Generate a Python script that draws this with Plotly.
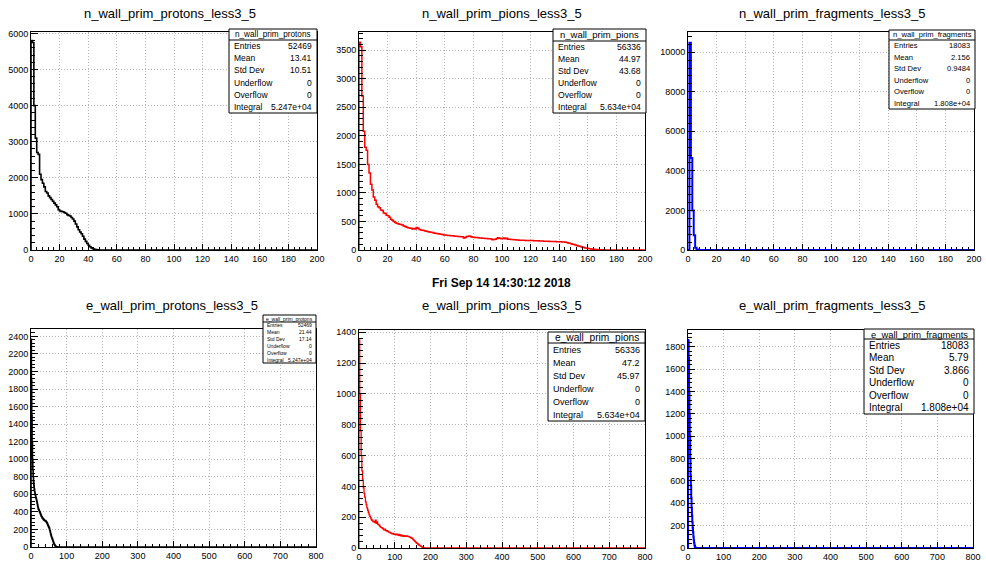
import plotly.graph_objects as go

# ---------------- data ----------------
# top row: n_wall_* histograms, x 0..200, bin width 1
n_bin_width = 1
n_protons_counts = [
    5800, 5750, 4000, 3100, 2700, 2650, 2100, 1950, 1850, 1750,
    1620, 1580, 1500, 1450, 1400, 1350, 1300, 1250, 1200, 1120,
    1080, 1070, 1060, 1040, 1020, 980, 960, 940, 900, 860,
    800, 720, 640, 560, 500, 450, 380, 300, 240, 180,
    130, 90, 60, 35, 20, 10, 4, 2]
n_pions_counts = [
    3640, 3560, 2700, 2080, 1800, 1750, 1500, 1350, 1150, 1050,
    930, 870, 800, 760, 740, 700, 690, 650, 640, 610,
    600, 575, 540, 520, 500, 480, 470, 460, 450, 445,
    440, 420, 410, 400, 390, 385, 380, 370, 375, 370,
    395, 380, 360, 350, 345, 340, 335, 330, 320, 315,
    310, 305, 300, 295, 290, 285, 280, 275, 270, 265,
    262, 258, 255, 252, 250, 248, 245, 243, 240, 238,
    235, 232, 230, 210, 220, 235, 240, 245, 230, 225,
    222, 220, 218, 215, 212, 210, 208, 205, 203, 200,
    198, 195, 193, 180, 185, 190, 200, 215, 205, 195,
    200, 210, 195, 205, 190, 188, 185, 183, 180, 178,
    176, 175, 173, 172, 170, 169, 168, 167, 167, 166,
    166, 165, 163, 162, 161, 160, 158, 157, 156, 155,
    154, 153, 152, 151, 150, 149, 148, 147, 146, 145,
    144, 143, 140, 138, 135, 130, 124, 118, 110, 102,
    95, 88, 80, 72, 64, 56, 49, 42, 36, 31,
    26, 22, 18, 15, 12, 10, 8, 6, 5, 4,
    3, 3, 2, 2, 1, 1, 1, 0]
n_fragments_counts = [0, 10480, 4650, 2000, 750, 120, 30]

# bottom row: e_wall_* histograms, x 0..800
e_protons_bin_width = 1
e_protons_counts = [
    2366, 1900, 1500, 1200, 1000, 880, 800, 740, 700, 660,
    630, 610, 590, 570, 555, 540, 520, 500, 480, 460,
    440, 430, 420, 410, 400, 395, 380, 370, 360, 350,
    345, 335, 330, 325, 320, 315, 310, 305, 300, 300,
    300, 295, 290, 285, 280, 272, 262, 252, 242, 232,
    225, 215, 200, 185, 168, 150, 135, 120, 108, 98,
    88, 75, 62, 50, 40, 32, 24, 17, 12, 8,
    5, 3, 2, 1]
e_pions_bin_width = 2
e_pions_counts = [
    1350, 1000, 760, 600, 500, 440, 390, 355, 330, 300,
    280, 260, 245, 230, 215, 205, 195, 185, 180, 175,
    170, 172, 165, 180, 160, 170, 155, 150, 148, 140,
    135, 132, 130, 128, 120, 118, 122, 115, 110, 112,
    108, 105, 100, 102, 98, 95, 92, 95, 90, 88,
    92, 85, 88, 90, 85, 82, 88, 80, 85, 78,
    82, 80, 75, 80, 78, 78, 76, 78, 75, 74,
    72, 70, 68, 65, 62, 58, 53, 48, 43, 38,
    34, 30, 26, 22, 18, 15, 12, 9, 6, 4,
    2, 1, 0]
e_fragments_bin_width = 1
e_fragments_counts = [
    1860, 1850, 1700, 1400, 1200, 1000, 800, 650, 560, 450,
    360, 290, 230, 180, 140, 100, 70, 45, 25, 12, 5, 2]

titles = ["n_wall_prim_protons_less3_5", "n_wall_prim_pions_less3_5",
          "n_wall_prim_fragments_less3_5", "e_wall_prim_protons_less3_5",
          "e_wall_prim_pions_less3_5", "e_wall_prim_fragments_less3_5"]
stat_names = ["n_wall_prim_protons", "n_wall_prim_pions", "n_wall_prim_fragments",
              "e_wall_prim_protons", "e_wall_prim_pions", "e_wall_prim_fragments"]
stat_labels = ["Entries", "Mean", "Std Dev", "Underflow", "Overflow", "Integral"]
stat_entries = ["52469", "56336", "18083", "52469", "56336", "18083"]
stat_means = ["13.41", "44.97", "2.156", "21.44", "47.2", "5.79"]
stat_stddevs = ["10.51", "43.68", "0.9484", "17.14", "45.97", "3.866"]
stat_underflows = ["0", "0", "0", "0", "0", "0"]
stat_overflows = ["0", "0", "0", "0", "0", "0"]
stat_integrals = ["5.247e+04", "5.634e+04", "1.808e+04", "5.247e+04", "5.634e+04", "1.808e+04"]
timestamp = "Fri Sep 14 14:30:12 2018"

# ---------------- layout constants ----------------
W, H = 986, 565
FONT = "Liberation Sans, Arial, sans-serif"


def px(x):
    return x / W


def py(y):
    return 1 - y / H


hists = [
    (n_protons_counts, n_bin_width, 200, "black", 1.6),
    (n_pions_counts, n_bin_width, 200, "red", 1.5),
    (n_fragments_counts, n_bin_width, 200, "blue", 2.0),
    (e_protons_counts, e_protons_bin_width, 800, "black", 1.6),
    (e_pions_counts, e_pions_bin_width, 800, "red", 1.3),
    (e_fragments_counts, e_fragments_bin_width, 800, "blue", 2.0),
]
# pixel frames: x0, x1, ytop, ybottom
frames = [(31, 317, 32, 250), (359, 645, 32, 250), (688, 974, 32, 250),
          (31, 316, 329, 547), (359, 645, 330, 548), (688, 973, 330, 548)]
yranges = [6040, 3820, 11020, 2484, 1415, 1950]
ydticks = [1000, 500, 2000, 200, 200, 200]
xdticks = [20, 20, 20, 100, 100, 100]
title_pos = [(170, 13), (502, 13), (832, 13), (172, 305), (502, 305), (832, 305)]
# stats boxes: x0, y0, x1, y1, header line y, header font, row font
boxes = [(229, 29, 317, 113, 40, 8.2, 8.5),
         (553, 29, 646, 113, 41, 9.5, 8.6),
         (889, 30, 975, 109, 40, 7.6, 7.6),
         (263, 315, 316, 363, 322, 5.0, 5.0),
         (548, 332, 645, 421, 343, 10.2, 9.0),
         (864, 329, 974, 414, 339, 9.4, 10.0)]

fig = go.Figure()
shapes = []
annotations = []
layout_axes = {}

for i, (counts, w, xmax, color, lw) in enumerate(hists):
    n = len(counts)
    xs = [0] + [k * w for k in range(n)] + [n * w, xmax]
    ys = [0] + list(counts) + [0, 0]
    k = i + 1
    xa = "x" if k == 1 else f"x{k}"
    ya = "y" if k == 1 else f"y{k}"
    fig.add_trace(go.Scatter(x=xs, y=ys, mode="lines", line=dict(color=color, width=lw, shape="hv"),
                             xaxis=xa, yaxis=ya, showlegend=False, hoverinfo="skip"))
    fx0, fx1, fyt, fyb = frames[i]
    common = dict(showline=True, linecolor="black", linewidth=1, mirror=True, automargin=False,
                  ticks="inside", tickcolor="black", showgrid=True, gridcolor="#b4b4b4",
                  griddash="1px,2px", gridwidth=1, zeroline=False, tick0=0, tickformat="d",
                  tickfont=dict(family=FONT, size=9, color="black"))
    layout_axes["xaxis" if k == 1 else f"xaxis{k}"] = dict(
        common, domain=[px(fx0), px(fx1)], range=[0, xmax], dtick=xdticks[i], ticklen=6,
        anchor=ya, minor=dict(dtick=xdticks[i] / 5, ticklen=3, ticks="inside", tickcolor="black", showgrid=False))
    layout_axes["yaxis" if k == 1 else f"yaxis{k}"] = dict(
        common, domain=[py(fyb), py(fyt)], range=[0, yranges[i]], dtick=ydticks[i], ticklen=7,
        anchor=xa, minor=dict(dtick=ydticks[i] / 5, ticklen=4, ticks="inside", tickcolor="black", showgrid=False))

    tx, ty = title_pos[i]
    annotations.append(dict(x=px(tx), y=py(ty), xref="paper", yref="paper", text=titles[i],
                            showarrow=False, xanchor="center", yanchor="middle",
                            font=dict(family=FONT, size=13, color="black")))

    bx0, by0, bx1, by1, hy, hf, rf = boxes[i]
    shapes.append(dict(type="rect", xref="paper", yref="paper", x0=px(bx0), x1=px(bx1),
                       y0=py(by1), y1=py(by0), fillcolor="white", line=dict(color="black", width=1), layer="above"))
    shapes.append(dict(type="line", xref="paper", yref="paper", x0=px(bx0), x1=px(bx1),
                       y0=py(hy), y1=py(hy), line=dict(color="black", width=1), layer="above"))
    annotations.append(dict(x=px((bx0 + bx1) / 2), y=py((by0 + hy) / 2), xref="paper", yref="paper",
                            text=stat_names[i], showarrow=False, xanchor="center", yanchor="middle",
                            font=dict(family=FONT, size=hf, color="black")))
    vals = [stat_entries[i], stat_means[i], stat_stddevs[i], stat_underflows[i],
            stat_overflows[i], stat_integrals[i]]
    rh = (by1 - hy) / 6
    pad = 3 if i != 3 else 2
    for r, (lab, val) in enumerate(zip(stat_labels, vals)):
        yc = hy + (r + 0.5) * rh
        annotations.append(dict(x=px(bx0 + pad), y=py(yc), xref="paper", yref="paper", text=lab,
                                showarrow=False, xanchor="left", yanchor="middle",
                                font=dict(family=FONT, size=rf, color="black")))
        annotations.append(dict(x=px(bx1 - pad), y=py(yc), xref="paper", yref="paper", text=val,
                                showarrow=False, xanchor="right", yanchor="middle",
                                font=dict(family=FONT, size=rf, color="black")))

annotations.append(dict(x=px(501), y=py(283), xref="paper", yref="paper", text="<b>" + timestamp + "</b>",
                        showarrow=False, xanchor="center", yanchor="middle",
                        font=dict(family=FONT, size=12, color="black")))

fig.update_layout(width=W, height=H, autosize=False, margin=dict(l=0, r=0, t=0, b=0),
                  paper_bgcolor="white", plot_bgcolor="white", shapes=shapes,
                  annotations=annotations, **layout_axes)
fig.write_html("out.html", config={"displayModeBar": False, "staticPlot": True},
               post_script="document.body.style.margin='0';document.body.style.overflow='hidden';")
